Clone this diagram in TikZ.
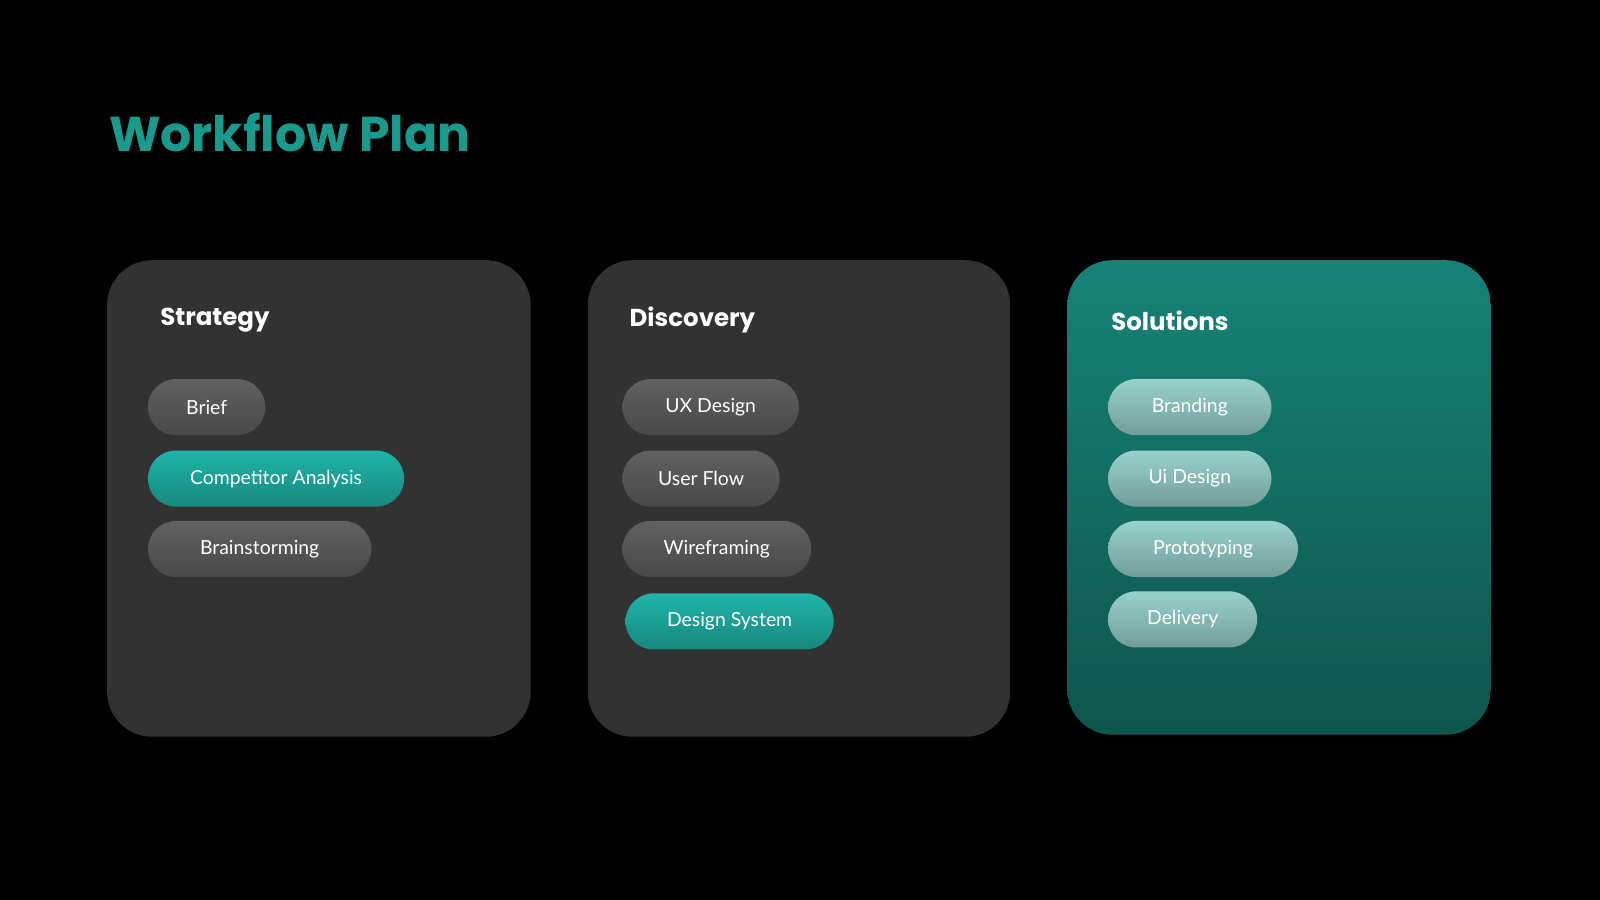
\documentclass[tikz,border=0pt]{standalone}
\usepackage{fontspec}
\setmainfont{Poppins}
\newfontfamily\pillfont{Lato}
\definecolor{bg}{HTML}{000000}
\definecolor{card}{HTML}{323232}
\definecolor{teal}{HTML}{1A9A8C}
\definecolor{tealpill}{HTML}{1FB5A8}
\begin{document}
\begin{tikzpicture}[x=0.5pt,y=-0.5pt,
  card/.style={rounded corners=22pt,fill=card},
  pill/.style={rounded corners=13.7pt,minimum height=27.5pt,inner sep=0pt,text=white,font=\pillfont\fontsize{9.5}{11}\selectfont,top color=#1!100,bottom color=#1!75!black},
  head/.style={anchor=west,text=white,font=\fontsize{12}{14}\selectfont\bfseries}]
\fill[bg] (0,0) rectangle (1568,882);
\node[anchor=west,text=teal,font=\fontsize{24}{28}\selectfont\bfseries] (title) at (100,130) {Workflow Plan};
\fill[card] (105,255) rectangle (520,722);
\fill[card] (576,255) rectangle (990,722);
\shade[rounded corners=22pt,top color=teal!85!black,bottom color=teal!55!black] (1046,255) rectangle (1461,720);
\node[head] (s) at (150,314) {Strategy};
\node[head] (d) at (610,314) {Discovery};
\node[head] (so) at (1082,314) {Solutions};
\newcommand\mypill[6]{\node[pill=#5,minimum width={(#3-#2)*0.5pt}] (#1) at ({(#2+#3)/2},#4) {#6};}
\colorlet{gp}{black!62}
\colorlet{lp}{white!55!teal}
\mypill{p1}{145}{260}{399}{gp}{Brief}
\mypill{p2}{145}{396}{469}{tealpill}{Competitor Analysis}
\mypill{p3}{145}{364}{538}{gp}{Brainstorming}
\mypill{p4}{610}{783}{399}{gp}{UX Design}
\mypill{p5}{610}{764}{469}{gp}{User Flow}
\mypill{p6}{610}{795}{538}{gp}{Wireframing}
\mypill{p7}{613}{817}{609}{tealpill}{Design System}
\mypill{p8}{1086}{1246}{399}{lp}{Branding}
\mypill{p9}{1086}{1246}{469}{lp}{Ui Design}
\mypill{p10}{1086}{1272}{538}{lp}{Prototyping}
\mypill{p11}{1086}{1232}{607}{lp}{Delivery}
\end{tikzpicture}
\end{document}
